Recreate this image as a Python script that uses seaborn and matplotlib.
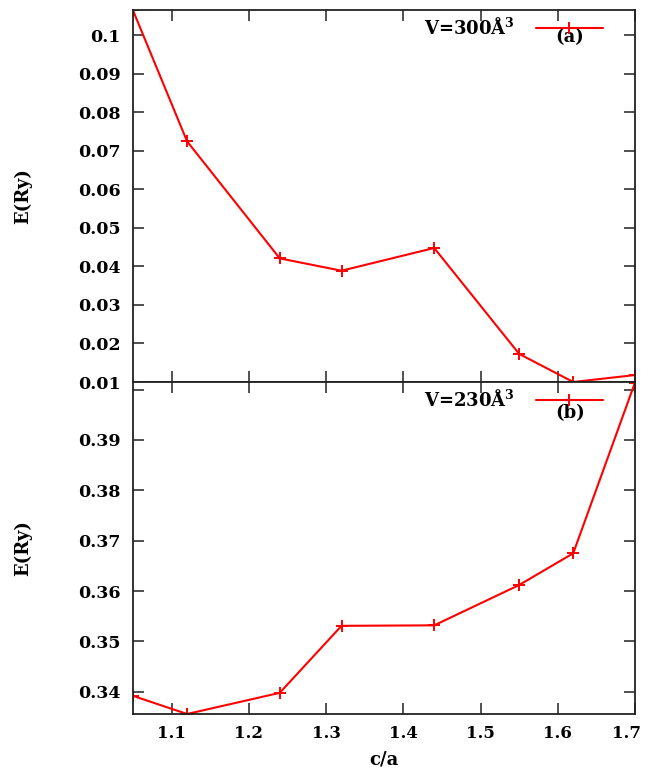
import numpy as np
import pandas as pd
import seaborn as sns
import matplotlib
matplotlib.use("Agg")
import matplotlib.pyplot as plt
from matplotlib.lines import Line2D
from matplotlib.transforms import ScaledTranslation

# ---- data ----
ca = [1.05, 1.12, 1.24, 1.32, 1.44, 1.55, 1.62, 1.70]
e_300 = [0.1065, 0.0725, 0.0421, 0.0389, 0.0448, 0.0173, 0.0100, 0.0118]
e_230 = [0.3392, 0.3356, 0.3398, 0.3531, 0.3532, 0.3612, 0.3675, 0.4014]
top_yticks = [0.01, 0.02, 0.03, 0.04, 0.05, 0.06, 0.07, 0.08, 0.09, 0.1]
bot_yticks = [0.34, 0.35, 0.36, 0.37, 0.38, 0.39, 0.40]
bot_yticklabels = ["0.34", "0.35", "0.36", "0.37", "0.38", "0.39", ""]
xticks = [1.1, 1.2, 1.3, 1.4, 1.5, 1.6, 1.7]
labels = [r"V=300Å$^{\mathbf{3}}$", r"V=230Å$^{\mathbf{3}}$"]
tags = ["(a)", "(b)"]

sns.set_theme(style="ticks")
plt.rcParams['font.family'] = ['DejaVu Serif']
plt.rcParams['font.weight'] = 'bold'
plt.rcParams['mathtext.fontset'] = 'dejavuserif'
plt.rcParams['text.color'] = 'black'
plt.rcParams['axes.labelcolor'] = 'black'
plt.rcParams['xtick.color'] = 'black'
plt.rcParams['ytick.color'] = 'black'

W, H = 647, 778
fig = plt.figure(figsize=(W / 100, H / 100), dpi=100)
left, right = 133 / W, 635 / W
ax1 = fig.add_axes([left, 1 - 382 / H, right - left, (382 - 10) / H])
ax2 = fig.add_axes([left, 1 - 714 / H, right - left, (714 - 382) / H])

df1 = pd.DataFrame({"ca": ca, "E": e_300})
df2 = pd.DataFrame({"ca": ca, "E": e_230})

red = "#ff0000"
for ax, df in [(ax1, df1), (ax2, df2)]:
    sns.lineplot(data=df, x="ca", y="E", ax=ax, color=red, marker="+",
                 markersize=8, markeredgewidth=1.4, markeredgecolor=red,
                 linewidth=1.5, sort=False)
    ax.set_xlim(1.05, 1.70)
    ax.set_xticks(xticks)
    for s in ax.spines.values():
        s.set_linewidth(1.3)
        s.set_color("#222222")
    ax.tick_params(direction="in", length=8, width=1.1, color="#222222",
                   labelcolor="black", top=True, right=True, labelsize=12.5, pad=9)
    ax.set_ylabel("E(Ry)", fontsize=13, fontweight="bold", color="black")
    ax.yaxis.set_label_coords(-0.2, 0.5)

ax1.set_ylim(0.0100, 0.1066)
ax1.set_yticks(top_yticks)
ax1.set_yticklabels([f"{v:g}" for v in top_yticks], fontweight="bold")
ax1.set_xticklabels([])
ax1.set_xlabel("")

ax2.set_ylim(0.3356, 0.4015)
ax2.set_yticks(bot_yticks)
ax2.set_yticklabels(bot_yticklabels, fontweight="bold")
ax2.set_xticklabels([f"{v:g}" for v in xticks], fontweight="bold")
ax2.tick_params(axis="x", labelsize=12, pad=8)
ax2.set_xlabel("c/a", fontsize=13, fontweight="bold", labelpad=6, color="black")
last = ax2.get_xticklabels()[-1]
last.set_transform(last.get_transform() + ScaledTranslation(-8 / 100, 0, fig.dpi_scale_trans))

for ax, lab, ty in [(ax1, labels[0], 0.980), (ax2, labels[1], 0.978)]:
    h = Line2D([], [], color=red, marker="+", markersize=8, markeredgewidth=1.4,
               markeredgecolor=red, linewidth=1.5)
    ax.legend([h], [lab], loc="upper right", bbox_to_anchor=(0.936, ty),
              frameon=False, markerfirst=False, handlelength=3.7,
              borderpad=0, borderaxespad=0, handletextpad=1.2,
              prop={"weight": "bold", "size": 13, "family": "DejaVu Serif"})

ax1.text(0.870, 1 - 27 / 372, tags[0], transform=ax1.transAxes, ha="center",
         va="center", fontsize=13, fontweight="bold")
ax2.text(0.870, 1 - 31 / 332, tags[1], transform=ax2.transAxes, ha="center",
         va="center", fontsize=13, fontweight="bold")

fig.savefig("out.png", dpi=100)
